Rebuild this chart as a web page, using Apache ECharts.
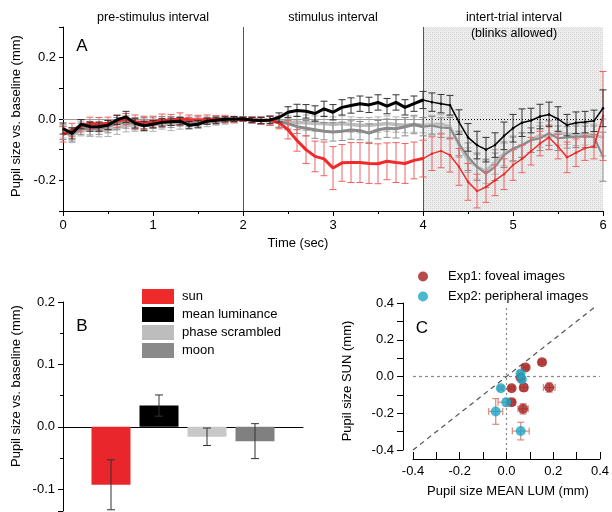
<!DOCTYPE html>
<html>
<head>
<meta charset="utf-8">
<script src="https://cdn.jsdelivr.net/npm/echarts@6/dist/echarts.min.js"></script>
<style>
  html, body { margin: 0; padding: 0; background: #fff; }
  #chart { width: 612px; height: 512px; }
</style>
</head>
<body>
<div id="chart"></div>
<script>
// ---- Panel A: pupil time course (mm vs. baseline), sampled every 0.1 s ----
const TIME = [0.0,0.1,0.2,0.3,0.4,0.5,0.6,0.7,0.8,0.9,1.0,1.1,1.2,1.3,1.4,1.5,1.6,1.7,1.8,1.9,2.0,
  2.1,2.2,2.3,2.4,2.5,2.6,2.7,2.8,2.9,3.0,3.1,3.2,3.3,3.4,3.5,3.6,3.7,3.8,3.9,4.0,
  4.1,4.2,4.3,4.4,4.5,4.6,4.7,4.8,4.9,5.0,5.1,5.2,5.3,5.4,5.5,5.6,5.7,5.8,5.9,6.0];

const SUN = [-0.050,-0.036,-0.022,-0.014,-0.017,-0.014,-0.007,0.000,-0.009,-0.011,-0.009,-0.004,-0.003,0.000,-0.002,-0.003,-0.002,-0.001,0.000,-0.001,0.000,
  -0.003,-0.005,-0.005,-0.012,-0.035,-0.070,-0.100,-0.122,-0.130,-0.160,-0.143,-0.142,-0.142,-0.145,-0.146,-0.138,-0.142,-0.145,-0.135,-0.129,
  -0.113,-0.104,-0.118,-0.156,-0.205,-0.235,-0.222,-0.200,-0.180,-0.150,-0.130,-0.105,-0.080,-0.060,-0.090,-0.125,-0.110,-0.095,-0.090,0.010];
const SUN_ERR = [0.025,0.022,0.020,0.020,0.022,0.020,0.020,0.018,0.022,0.020,0.018,0.020,0.018,0.020,0.015,0.015,0.015,0.012,0.012,0.010,0.008,
  0.010,0.012,0.015,0.020,0.030,0.035,0.045,0.050,0.055,0.070,0.060,0.065,0.065,0.065,0.065,0.060,0.065,0.065,0.060,0.060,
  0.055,0.055,0.055,0.060,0.060,0.055,0.050,0.050,0.050,0.050,0.045,0.045,0.040,0.040,0.040,0.050,0.045,0.040,0.040,0.145];

const MEANLUM = [-0.031,-0.047,-0.017,-0.025,-0.025,-0.020,-0.003,0.007,-0.014,-0.022,-0.017,-0.011,-0.009,-0.007,-0.020,-0.017,-0.007,-0.004,-0.001,0.000,0.000,
  -0.003,-0.005,-0.003,0.005,0.022,0.028,0.025,0.018,0.033,0.022,0.038,0.044,0.050,0.046,0.054,0.042,0.054,0.038,0.050,0.062,
  0.055,0.050,0.045,-0.010,-0.060,-0.085,-0.100,-0.085,-0.055,-0.030,-0.012,-0.005,0.008,0.015,0.000,-0.020,-0.012,-0.010,-0.006,0.035];
const MEANLUM_ERR = [0.018,0.018,0.015,0.015,0.015,0.015,0.015,0.018,0.015,0.015,0.012,0.012,0.012,0.012,0.012,0.012,0.010,0.010,0.008,0.008,0.006,
  0.008,0.010,0.012,0.015,0.018,0.020,0.022,0.025,0.025,0.025,0.025,0.025,0.025,0.025,0.025,0.025,0.025,0.025,0.025,0.028,
  0.030,0.030,0.032,0.040,0.045,0.045,0.040,0.040,0.045,0.045,0.045,0.040,0.040,0.040,0.040,0.035,0.035,0.035,0.035,0.060];

const SCRAMBLED = [-0.040,-0.055,-0.035,-0.035,-0.038,-0.035,-0.030,-0.020,-0.020,-0.020,-0.020,-0.015,-0.018,-0.015,-0.012,-0.012,-0.010,-0.008,-0.005,-0.003,0.000,
  -0.003,-0.005,-0.005,-0.008,-0.010,-0.012,-0.012,-0.015,-0.015,-0.018,-0.015,-0.018,-0.020,-0.020,-0.018,-0.015,-0.018,-0.020,-0.018,-0.020,
  -0.018,-0.016,-0.025,-0.085,-0.134,-0.156,-0.170,-0.140,-0.113,-0.100,-0.085,-0.069,-0.052,-0.060,-0.045,-0.048,-0.052,-0.050,-0.052,-0.060];
const SCRAMBLED_ERR = [0.022,0.022,0.020,0.022,0.020,0.022,0.020,0.022,0.020,0.020,0.020,0.018,0.020,0.018,0.018,0.015,0.015,0.012,0.012,0.010,0.008,
  0.010,0.012,0.015,0.018,0.020,0.022,0.025,0.025,0.025,0.025,0.025,0.025,0.025,0.025,0.025,0.025,0.025,0.025,0.025,0.025,
  0.030,0.030,0.035,0.040,0.040,0.040,0.040,0.040,0.040,0.040,0.040,0.040,0.040,0.040,0.040,0.035,0.035,0.035,0.035,0.060];

const MOON = [-0.045,-0.050,-0.030,-0.030,-0.030,-0.025,-0.015,-0.010,-0.015,-0.015,-0.012,-0.010,-0.010,-0.008,-0.010,-0.008,-0.006,-0.005,-0.003,-0.002,0.000,
  -0.003,-0.005,-0.006,-0.010,-0.015,-0.025,-0.030,-0.035,-0.040,-0.042,-0.040,-0.036,-0.038,-0.046,-0.035,-0.030,-0.032,-0.025,-0.018,-0.025,
  -0.022,-0.028,-0.030,-0.080,-0.123,-0.156,-0.178,-0.156,-0.118,-0.096,-0.085,-0.069,-0.063,-0.046,-0.063,-0.060,-0.058,-0.058,-0.058,-0.123];
const MOON_ERR = [0.022,0.022,0.020,0.022,0.020,0.020,0.020,0.020,0.020,0.020,0.018,0.018,0.018,0.015,0.015,0.015,0.012,0.012,0.010,0.010,0.008,
  0.010,0.012,0.015,0.018,0.020,0.022,0.025,0.028,0.028,0.030,0.030,0.030,0.030,0.030,0.030,0.030,0.030,0.030,0.030,0.030,
  0.030,0.032,0.035,0.040,0.045,0.045,0.045,0.045,0.040,0.040,0.040,0.040,0.040,0.040,0.040,0.035,0.035,0.035,0.035,0.080];

// ---- Panel B: mean change during the stimulus interval ----
const CONDITIONS = ['sun', 'mean luminance', 'phase scrambled', 'moon'];
const COND_MEAN = [-0.093, 0.034, -0.016, -0.023];
const COND_ERR = [0.040, 0.017, 0.014, 0.028];

// ---- Panel C: per-image sun vs. mean-luminance response ----
const EXP1_X = [0.152, 0.082, 0.060, 0.022, 0.074, 0.183, 0.022, 0.071];
const EXP1_Y = [0.078, 0.049, -0.005, -0.064, -0.060, -0.060, -0.140, -0.176];
const EXP1_XERR = [0.015, 0.010, 0.012, 0.012, 0.015, 0.025, 0.015, 0.022];
const EXP1_YERR = [0.012, 0.010, 0.015, 0.010, 0.020, 0.025, 0.015, 0.028];
const EXP2_X = [0.060, 0.066, -0.024, -0.001, -0.046, 0.061];
const EXP2_Y = [0.015, -0.016, -0.064, -0.140, -0.190, -0.297];
const EXP2_XERR = [0.010, 0.012, 0.010, 0.035, 0.030, 0.036];
const EXP2_YERR = [0.015, 0.015, 0.010, 0.020, 0.070, 0.048];

const FONT = "'Liberation Sans', Arial, sans-serif";
const COLORS = { sun: '#e8262b', lum: '#000000', scr: '#bdbdbd', moon: '#8a8a8a' };

// textured fill for the inter-trial interval
const pat = document.createElement('canvas');
pat.width = 4; pat.height = 4;
(function () {
  const g = pat.getContext('2d');
  g.fillStyle = '#efefef'; g.fillRect(0, 0, 4, 4);
  g.fillStyle = '#d6d6d6';
  g.fillRect(0, 0, 1, 1); g.fillRect(2, 2, 1, 1);
  g.fillRect(2, 0, 1, 1); g.fillRect(0, 2, 1, 1);
  g.fillStyle = '#e4e4e4';
  g.fillRect(1, 1, 1, 1); g.fillRect(3, 3, 1, 1);
})();

function zip(t, v, lo, hi) {
  const out = [];
  for (let i = lo; i <= hi; i++) out.push([t[i], v[i]]);
  return out;
}
function zipErr(t, v, e) {
  return t.map((x, i) => [x, v[i], e[i]]);
}

function vErrRenderer(color, cap) {
  return function (params, api) {
    const x = api.value(0), y = api.value(1), e = api.value(2);
    const hi = api.coord([x, y + e]);
    const lo = api.coord([x, y - e]);
    const st = { stroke: color, lineWidth: 1 };
    return {
      type: 'group',
      children: [
        { type: 'line', shape: { x1: hi[0], y1: hi[1], x2: lo[0], y2: lo[1] }, style: st },
        { type: 'line', shape: { x1: hi[0] - cap, y1: hi[1], x2: hi[0] + cap, y2: hi[1] }, style: st },
        { type: 'line', shape: { x1: lo[0] - cap, y1: lo[1], x2: lo[0] + cap, y2: lo[1] }, style: st }
      ]
    };
  };
}

function xyErrRenderer(color, cap) {
  return function (params, api) {
    const x = api.value(0), y = api.value(1), ex = api.value(2), ey = api.value(3);
    const t = api.coord([x, y + ey]), b = api.coord([x, y - ey]);
    const l = api.coord([x - ex, y]), r = api.coord([x + ex, y]);
    const st = { stroke: color, lineWidth: 1.2 };
    return {
      type: 'group',
      children: [
        { type: 'line', shape: { x1: t[0], y1: t[1], x2: b[0], y2: b[1] }, style: st },
        { type: 'line', shape: { x1: t[0] - cap, y1: t[1], x2: t[0] + cap, y2: t[1] }, style: st },
        { type: 'line', shape: { x1: b[0] - cap, y1: b[1], x2: b[0] + cap, y2: b[1] }, style: st },
        { type: 'line', shape: { x1: l[0], y1: l[1], x2: r[0], y2: r[1] }, style: st },
        { type: 'line', shape: { x1: l[0], y1: l[1] - cap, x2: l[0], y2: l[1] + cap }, style: st },
        { type: 'line', shape: { x1: r[0], y1: r[1] - cap, x2: r[0], y2: r[1] + cap }, style: st }
      ]
    };
  };
}

const fmt1 = v => (Math.abs(v) < 1e-9 ? '0.0' : v.toFixed(1));
const fmtEven = v => (Math.round(v * 10) % 2 === 0 ? fmt1(v) : '');
// label only exact tenths (skips the clipped edge value of an axis)
const fmtTenth = v => (Math.abs(v * 10 - Math.round(v * 10)) < 1e-6 ? fmt1(v) : '');

const axisLine = { lineStyle: { color: '#000', width: 1 } };
const labelStyle = { color: '#000', fontSize: 13, fontFamily: FONT };

const timeSeries = [];
function addCondition(name, values, errs, color, errColor, thick, thin, zBase) {
  timeSeries.push({
    type: 'custom', xAxisIndex: 0, yAxisIndex: 0, z: zBase,
    renderItem: vErrRenderer(errColor, 3.5), encode: { x: 0, y: 1 },
    data: zipErr(TIME, values, errs), silent: true
  });
  timeSeries.push({
    type: 'line', name: name, xAxisIndex: 0, yAxisIndex: 0, z: zBase + 1,
    data: zip(TIME, values, 0, 40), showSymbol: false, smooth: false,
    lineStyle: { color: color, width: thick }, itemStyle: { color: color }, silent: true
  });
  timeSeries.push({
    type: 'line', xAxisIndex: 0, yAxisIndex: 0, z: zBase + 1,
    data: zip(TIME, values, 40, 60), showSymbol: true, symbol: 'circle', symbolSize: 2.5,
    lineStyle: { color: color, width: thin }, itemStyle: { color: color }, silent: true
  });
}
addCondition('phase scrambled', SCRAMBLED, SCRAMBLED_ERR, COLORS.scr, '#b0b0b0', 3.5, 3, 3);
addCondition('moon', MOON, MOON_ERR, COLORS.moon, '#8c8c8c', 3, 2, 5);
addCondition('sun', SUN, SUN_ERR, '#ee2a2a', '#f06060', 3, 1.5, 7);
addCondition('mean luminance', MEANLUM, MEANLUM_ERR, COLORS.lum, '#333333', 3, 1.5, 9);

// reference marks for panel A (intervals, baseline)
const refA = {
  type: 'line', xAxisIndex: 0, yAxisIndex: 0, z: 1, silent: true,
  data: [[0, 0]], showSymbol: false, lineStyle: { opacity: 0 },
  markArea: {
    silent: true,
    itemStyle: { color: { image: pat, repeat: 'repeat' } },
    data: [[{ xAxis: 4 }, { xAxis: 6 }]]
  },
  markLine: {
    silent: true, symbol: 'none', label: { show: false },
    data: [
      { xAxis: 2, lineStyle: { color: '#555', width: 1, type: 'solid' } },
      { xAxis: 4, lineStyle: { color: '#555', width: 1, type: 'solid' } },
      [{ coord: [0, 0], lineStyle: { color: '#9a9a9a', width: 1, type: 'solid' } }, { coord: [4, 0] }],
      [{ coord: [4, 0], lineStyle: { color: '#000', width: 1, type: [1, 2] } }, { coord: [6, 0] }]
    ]
  }
};

// panel B bars: one series per condition so the legend lists them
const barColors = [COLORS.sun, COLORS.lum, '#c8c8c8', '#808080'];
const barSeries = CONDITIONS.map((c, i) => ({
  type: 'bar', name: c, xAxisIndex: 1, yAxisIndex: 1,
  barWidth: 39, barGap: '-100%', z: 2, silent: true,
  itemStyle: { color: barColors[i] },
  data: [[i + 1, COND_MEAN[i]]]
}));
const barErr = {
  type: 'custom', xAxisIndex: 1, yAxisIndex: 1, z: 4, silent: true,
  renderItem: vErrRenderer('#333', 4), encode: { x: 0, y: 1 },
  data: CONDITIONS.map((c, i) => [i + 1, COND_MEAN[i], COND_ERR[i]])
};

// panel C
const exp1 = EXP1_X.map((x, i) => [x, EXP1_Y[i], EXP1_XERR[i], EXP1_YERR[i]]);
const exp2 = EXP2_X.map((x, i) => [x, EXP2_Y[i], EXP2_XERR[i], EXP2_YERR[i]]);
const refC = {
  type: 'line', xAxisIndex: 2, yAxisIndex: 2, z: 1, silent: true,
  data: [[0, 0]], showSymbol: false, lineStyle: { opacity: 0 },
  markLine: {
    silent: true, symbol: 'none', label: { show: false },
    data: [
      [{ coord: [0, -0.4], lineStyle: { color: '#888', width: 1.2, type: [2, 3] } }, { coord: [0, 0.38] }],
      [{ coord: [-0.4, 0], lineStyle: { color: '#888', width: 1.2, type: [3, 3] } }, { coord: [0.4, 0] }],
      [{ coord: [-0.4, -0.4], lineStyle: { color: '#555', width: 1.2, type: [5, 4] } }, { coord: [0.38, 0.38] }]
    ]
  }
};

const text = (x, y, s, size) => ({
  type: 'text', x: x, y: y, z: 100, silent: true,
  style: { text: s, fontSize: size, fontFamily: FONT, fill: '#000', align: 'center', verticalAlign: 'middle' }
});
const vtext = (x, y, s, size) => ({
  type: 'text', x: x, y: y, z: 100, rotation: Math.PI / 2, silent: true,
  style: { text: s, fontSize: size, fontFamily: FONT, fill: '#000', align: 'center', verticalAlign: 'middle' }
});

const option = {
  animation: false,
  backgroundColor: '#fff',
  textStyle: { fontFamily: FONT },
  grid: [
    { left: 63, top: 27, width: 540, height: 184 },
    { left: 63, top: 302, width: 240, height: 209 },
    { left: 413, top: 303, width: 191, height: 147 }
  ],
  xAxis: [
    {
      gridIndex: 0, type: 'value', min: 0, max: 6, interval: 1,
      axisLine: Object.assign({ onZero: false }, axisLine),
      axisTick: { length: 5, lineStyle: { color: '#000' } },
      minorTick: { show: true, splitNumber: 2, length: 3, lineStyle: { color: '#000' } },
      splitLine: { show: false },
      axisLabel: Object.assign({ margin: 8 }, labelStyle)
    },
    {
      gridIndex: 1, type: 'value', min: 0, max: 5,
      axisLine: Object.assign({ onZero: true }, axisLine),
      axisTick: { show: false }, axisLabel: { show: false }, splitLine: { show: false }
    },
    {
      gridIndex: 2, type: 'value', min: -0.4, max: 0.4, interval: 0.2, offset: 9,
      axisLine: Object.assign({ onZero: false }, axisLine),
      axisTick: { inside: true, length: 7, lineStyle: { color: '#000' } },
      minorTick: { show: true, splitNumber: 2, length: 7, lineStyle: { color: '#000' } },
      splitLine: { show: false },
      axisLabel: Object.assign({ margin: 6, formatter: fmt1 }, labelStyle)
    }
  ],
  yAxis: [
    {
      gridIndex: 0, type: 'value', min: -0.3, max: 0.3, interval: 0.1,
      axisLine: Object.assign({ onZero: false }, axisLine),
      axisTick: { length: 4, lineStyle: { color: '#000' } },
      splitLine: { show: false },
      axisLabel: Object.assign({ margin: 7, formatter: fmtEven }, labelStyle)
    },
    {
      gridIndex: 1, type: 'value', min: -0.135, max: 0.2, splitNumber: 3,
      axisLine: Object.assign({ onZero: false }, axisLine),
      axisTick: { length: 5, lineStyle: { color: '#000' } },
      minorTick: { show: true, splitNumber: 2, length: 3, lineStyle: { color: '#000' } },
      splitLine: { show: false },
      axisLabel: Object.assign({ margin: 8, formatter: fmtTenth }, labelStyle)
    },
    {
      gridIndex: 2, type: 'value', min: -0.4, max: 0.4, interval: 0.2, offset: 10,
      axisLine: Object.assign({ onZero: false }, axisLine),
      axisTick: { length: 6, lineStyle: { color: '#000' } },
      minorTick: { show: true, splitNumber: 2, length: 6, lineStyle: { color: '#000' } },
      splitLine: { show: false },
      axisLabel: Object.assign({ margin: 9, formatter: fmt1 }, labelStyle)
    }
  ],
  legend: [
    {
      data: CONDITIONS, orient: 'vertical', left: 142, top: 289, padding: 0,
      itemWidth: 32, itemHeight: 15, itemGap: 3, selectedMode: false,
      icon: 'rect',
      textStyle: { color: '#000', fontSize: 13, fontFamily: FONT, padding: [0, 0, 0, 3] }
    },
    {
      data: ['Exp1: foveal images', 'Exp2: peripheral images'], orient: 'vertical',
      left: 418, top: 270, padding: 0, itemWidth: 10, itemHeight: 10, itemGap: 7,
      icon: 'circle', selectedMode: false,
      textStyle: { color: '#000', fontSize: 13, fontFamily: FONT, padding: [0, 0, 0, 15] }
    }
  ],
  series: [refA].concat(timeSeries, barSeries, [barErr, refC,
    {
      type: 'custom', xAxisIndex: 2, yAxisIndex: 2, z: 3, silent: true,
      renderItem: xyErrRenderer('#d88a80', 3.5), encode: { x: 0, y: 1 }, data: exp1
    },
    {
      type: 'custom', xAxisIndex: 2, yAxisIndex: 2, z: 3, silent: true,
      renderItem: xyErrRenderer('#d88a80', 3.5), encode: { x: 0, y: 1 }, data: exp2
    },
    {
      type: 'scatter', name: 'Exp1: foveal images', xAxisIndex: 2, yAxisIndex: 2, z: 5,
      symbol: 'circle', symbolSize: 10, itemStyle: { color: '#a41e1e' },
      data: exp1.map(d => [d[0], d[1]])
    },
    {
      type: 'scatter', name: 'Exp2: peripheral images', xAxisIndex: 2, yAxisIndex: 2, z: 6,
      symbol: 'circle', symbolSize: 10, itemStyle: { color: '#1aa7c6' },
      data: exp2.map(d => [d[0], d[1]])
    }
  ]),
  graphic: [
    text(153, 18, 'pre-stimulus interval', 12.5),
    text(333, 18, 'stimulus interval', 12.5),
    text(514, 18, 'intert-trial interval', 12.5),
    text(514, 34, '(blinks allowed)', 12.5),
    text(82, 46, 'A', 17),
    text(298, 243, 'Time (sec)', 13),
    vtext(16, 116, 'Pupil size vs. baseline (mm)', 13),
    text(82, 326, 'B', 17),
    vtext(16, 386, 'Pupil size vs. baseline (mm)', 13),
    text(422, 328, 'C', 17),
    vtext(347, 381, 'Pupil size SUN (mm)', 13),
    text(508, 491, 'Pupil size MEAN LUM (mm)', 13)
  ]
};

const chart = echarts.init(document.getElementById('chart'), null, { renderer: 'canvas' });
chart.setOption(option);
</script>
</body>
</html>
